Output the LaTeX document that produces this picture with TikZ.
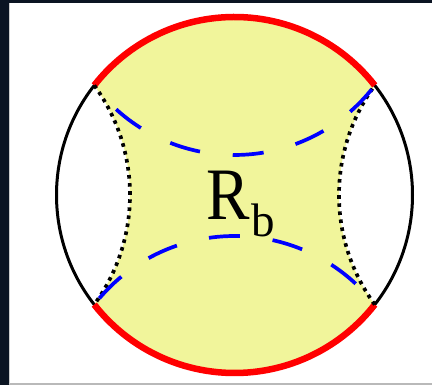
\documentclass[tikz,border=0pt]{standalone}
\usepackage{fontspec}
\setmainfont{Liberation Serif}
\definecolor{darkbg}{HTML}{0B1422}
\definecolor{fillyellow}{HTML}{F1F59B}
\begin{document}
\begin{tikzpicture}[x=1pt,y=1pt,
  rim/.style={line width=3pt,black},
  redrim/.style={line width=6.5pt,red},
  geo/.style={line width=3.7pt,blue,dash pattern=on 31pt off 33pt},
  dotline/.style={line width=3.7pt,black,dash pattern=on 3.6pt off 4.5pt}]
\useasboundingbox (0,0) rectangle (432,385);
\fill[white] (0,0) rectangle (432,385);
\fill[darkbg] (0,0) rectangle (8.5,385);
\fill[darkbg] (0,382) rectangle (432,385);
\draw[gray!55,line width=1.2pt] (8.5,0.9) -- (432,0.9);
\draw[gray!40,line width=0.8pt] (9,1) -- (9,382);
\coordinate (C) at (234.5,190);
\path (C) ++(142:178) coordinate (UL);
\path (C) ++(38:178) coordinate (UR);
\path (C) ++(218:178) coordinate (LL);
\path (C) ++(322:178) coordinate (LR);
\fill[fillyellow] (UR) arc[start angle=38,end angle=142,radius=178]
  arc[start angle=36.15,end angle=-36.15,radius=185.76]
  arc[start angle=218,end angle=322,radius=178]
  arc[start angle=216.15,end angle=143.85,radius=185.76] -- cycle;
\draw[rim] (C) circle[radius=178];
\draw[redrim] (UR) arc[start angle=38,end angle=142,radius=178];
\draw[redrim] (LL) arc[start angle=218,end angle=322,radius=178];
\draw[dotline] (UL) arc[start angle=36.15,end angle=-36.15,radius=185.76];
\draw[dotline] (LR) arc[start angle=216.15,end angle=143.85,radius=185.76];
\draw[geo,dash phase=59pt] (UR) arc[start angle=-37.23,end angle=-142.77,radius=176.16];
\draw[geo,dash phase=56pt] (LL) arc[start angle=142.11,end angle=37.89,radius=177.73];
\node[anchor=base west,inner sep=0pt] (R) at (206.6,165.7) {\scalebox{0.88}[1]{\fontsize{74}{74}\selectfont R}};
\node[anchor=base west,inner sep=0pt] (b) at (251.5,148) {\fontsize{47}{47}\selectfont b};
\end{tikzpicture}
\end{document}
